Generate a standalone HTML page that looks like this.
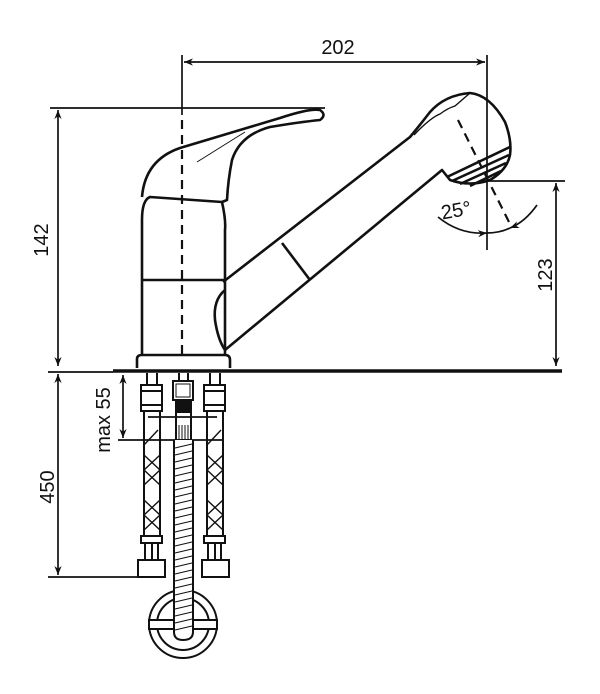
<!DOCTYPE html>
<html><head><meta charset="utf-8"><style>
html,body{margin:0;padding:0;background:#fff;}
svg{display:block;}
text{font-family:"Liberation Sans",sans-serif;fill:#111;}
</style></head><body>
<svg width="600" height="694" viewBox="0 0 600 694" xmlns="http://www.w3.org/2000/svg">
<defs>
<marker id="a" viewBox="0 0 10 10" refX="10" refY="5" markerWidth="9" markerHeight="9" orient="auto-start-reverse" markerUnits="userSpaceOnUse"><path d="M0,1 L10,5 L0,9 L3,5 Z" fill="#111"/></marker>
</defs>
<g stroke="#111" stroke-width="1.7" fill="none">
<line x1="182" y1="55" x2="182" y2="115"/>
<line x1="487" y1="55" x2="487" y2="250"/>
<line x1="184" y1="62" x2="485" y2="62" marker-start="url(#a)" marker-end="url(#a)"/>
<line x1="50" y1="108" x2="325" y2="108"/>
<line x1="58" y1="110" x2="58" y2="366" marker-start="url(#a)" marker-end="url(#a)"/>
<line x1="488" y1="181" x2="565" y2="181"/>
<line x1="556" y1="183" x2="556" y2="366" marker-start="url(#a)" marker-end="url(#a)"/>
<line x1="48" y1="372" x2="113" y2="372"/>
<line x1="58" y1="374" x2="58" y2="575" marker-start="url(#a)" marker-end="url(#a)"/>
<line x1="48" y1="577" x2="140" y2="577"/>
<line x1="123" y1="375" x2="123" y2="438" marker-start="url(#a)" marker-end="url(#a)"/>
<line x1="118" y1="440" x2="222" y2="440"/>
<line x1="148" y1="417" x2="217" y2="417"/>
</g>
<line x1="113" y1="371" x2="562" y2="371" stroke="#111" stroke-width="3.5"/>
<g stroke="#111" stroke-width="2.6" fill="none" stroke-linejoin="round">
<path d="M137,368 L137,359 Q137,355 142,355 L225,355 Q230,355 230,360 L230,368"/>
<path d="M142,355 L142,220 Q142,200 150,197 L222,202 Q226,220 225,230 L225,355"/>
<line x1="142" y1="280" x2="225" y2="280"/>
<path d="M142,197 Q145,160 180,148 L280,118 Q310,108 320,110 Q327,115 320,120 Q300,122 270,127 Q240,135 232,160 Q228,180 227,200 L222,202"/>
<path d="M197,162 L245,132" stroke-width="1"/>
<path d="M225,290 Q213,300 215,320 Q218,340 225,350"/>
<path d="M223,282 L410,137 Q420,125 430,112 Q445,95 470,93 Q490,95 505,122 Q512,140 510,155 Q507,170 490,180 Q470,187 450,180 L442,170 L225,350"/>
<path d="M414,135 Q430,118 440,114 Q448,108 455,106 Q462,100 470,93" stroke-width="1.4"/>
<line x1="282" y1="243" x2="310" y2="280"/>
<line x1="447" y1="177" x2="510" y2="147"/>
<line x1="452" y1="181" x2="509" y2="155"/>
<line x1="460" y1="184" x2="506" y2="163"/>
<line x1="470" y1="186" x2="501" y2="171"/>
</g>
<g stroke="#111" stroke-width="2.2" fill="none" stroke-dasharray="9,6">
<line x1="182" y1="120" x2="182" y2="360"/>
<line x1="458" y1="120" x2="512" y2="228"/>
</g>
<path d="M438,217 Q460,235 487,233" stroke="#111" stroke-width="1.7" fill="none" marker-end="url(#a)"/>
<path d="M537,205 Q525,222 510,228" stroke="#111" stroke-width="1.7" fill="none" marker-end="url(#a)"/>
<path d="M487,233 Q500,233 510,228" stroke="#111" stroke-width="1.7" fill="none"/>
<g stroke="#111" stroke-width="2" fill="none">
<line x1="147" y1="373" x2="147" y2="385"/><line x1="157" y1="373" x2="157" y2="385"/>
<rect x="141" y="385" width="21" height="6"/><rect x="141" y="391" width="21" height="14"/><rect x="141" y="405" width="21" height="6"/>
<line x1="144" y1="411" x2="144" y2="536"/><line x1="160" y1="411" x2="160" y2="536"/>
<path d="M144,455 L160,470 M160,455 L144,470 M144,470 L160,485 M160,470 L144,485 M144,500 L160,515 M160,500 L144,515 M144,515 L160,530 M160,515 L144,530 M144,445 L158,430" stroke-width="1.4"/>
<rect x="141" y="536" width="21" height="7"/>
<line x1="145" y1="543" x2="145" y2="560"/><line x1="152" y1="543" x2="152" y2="560"/><line x1="158" y1="543" x2="158" y2="560"/>
<rect x="138" y="560" width="27" height="17"/>
<line x1="210" y1="373" x2="210" y2="385"/><line x1="220" y1="373" x2="220" y2="385"/>
<rect x="204" y="385" width="21" height="6"/><rect x="204" y="391" width="21" height="14"/><rect x="204" y="405" width="21" height="6"/>
<line x1="207" y1="411" x2="207" y2="536"/><line x1="223" y1="411" x2="223" y2="536"/>
<path d="M207,455 L223,470 M223,455 L207,470 M207,470 L223,485 M223,470 L207,485 M207,500 L223,515 M223,500 L207,515 M207,515 L223,530 M223,515 L207,530 M207,445 L221,430" stroke-width="1.4"/>
<rect x="204" y="536" width="21" height="7"/>
<line x1="208" y1="543" x2="208" y2="560"/><line x1="215" y1="543" x2="215" y2="560"/><line x1="221" y1="543" x2="221" y2="560"/>
<rect x="202" y="560" width="27" height="17"/>
<line x1="179" y1="373" x2="179" y2="381"/><line x1="188" y1="373" x2="188" y2="381"/>
<rect x="173" y="381" width="20" height="19"/><rect x="176" y="384" width="14" height="13" stroke-width="1"/>
<rect x="176" y="400" width="15" height="12" fill="#111"/>
<rect x="176" y="412" width="15" height="28"/>
<path d="M179,425 V440 M182,425 V440 M185,425 V440 M188,425 V440" stroke-width="1"/>
<circle cx="183" cy="624" r="34"/>
<circle cx="183" cy="624" r="26"/>
<rect x="149" y="620" width="68" height="9" fill="#fff"/>
<path d="M174,440 V632 Q174,640 183,640 Q193,640 193,632 V440" fill="#fff"/>
</g>
<g stroke="#111" stroke-width="1.1">
<path d="M175,448 L192,444 M175,455 L192,451 M175,462 L192,458 M175,469 L192,465 M175,476 L192,472 M175,483 L192,479 M175,490 L192,486 M175,497 L192,493 M175,504 L192,500 M175,511 L192,507 M175,518 L192,514 M175,525 L192,521 M175,532 L192,528 M175,539 L192,535 M175,546 L192,542 M175,553 L192,549 M175,560 L192,556 M175,567 L192,563 M175,574 L192,570 M175,581 L192,577 M175,588 L192,584 M175,595 L192,591 M175,602 L192,598 M175,609 L192,605 M175,616 L192,612 M175,623 L192,619 M175,630 L192,626"/>
</g>
<text x="338" y="54" font-size="20" text-anchor="middle">202</text>
<text x="456" y="217" font-size="20" text-anchor="middle" transform="rotate(-10 456 210)">25°</text>
<text font-size="20" text-anchor="middle" transform="translate(48,240) rotate(-90)">142</text>
<text font-size="20" text-anchor="middle" transform="translate(552,275) rotate(-90)">123</text>
<text font-size="20" text-anchor="middle" transform="translate(54,487) rotate(-90)">450</text>
<text font-size="20" text-anchor="middle" transform="translate(110,420) rotate(-90)">max 55</text>
</svg>
</body></html>
